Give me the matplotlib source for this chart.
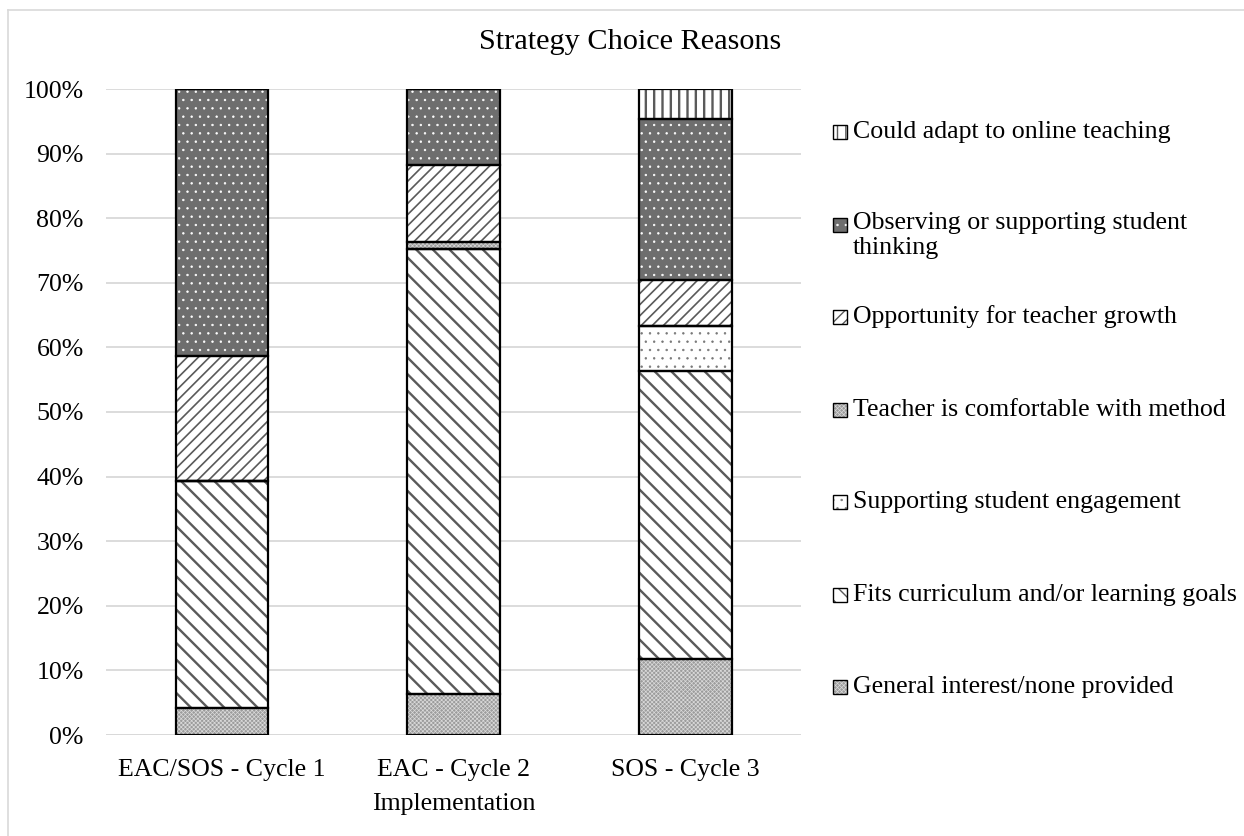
import matplotlib
matplotlib.use("Agg")
from matplotlib import pyplot as plt
from matplotlib.patches import Rectangle
import numpy as np

# categories (x axis)
groups = ["EAC/SOS - Cycle 1", "EAC - Cycle 2\nImplementation", "SOS - Cycle 3"]

# stacked series, bottom to top (percent)
general_interest = [4.2, 6.3, 11.8]
fits_curriculum = [35.1, 68.9, 44.5]
student_engagement = [0.0, 0.0, 7.0]
teacher_comfortable = [0.0, 1.1, 0.0]
teacher_growth = [19.4, 12.0, 7.1]
student_thinking = [41.3, 11.7, 24.9]
online_teaching = [0.0, 0.0, 4.7]

series_names = [
    "General interest/none provided",
    "Fits curriculum and/or learning goals",
    "Supporting student engagement",
    "Teacher is comfortable with method",
    "Opportunity for teacher growth",
    "Observing or supporting student\nthinking",
    "Could adapt to online teaching",
]
series_vals = [general_interest, fits_curriculum, student_engagement,
               teacher_comfortable, teacher_growth, student_thinking,
               online_teaching]

# (facecolor, hatch, hatch colour, hatch linewidth)
styles = [
    ("#9c9c9c", "xxxxxxxx", "#dadada", 0.5),
    ("white", "\\\\", "#5a5a5a", 1.7),
    ("white", "..", "#777777", 0.5),
    ("#9c9c9c", "xxxxxxxx", "#dadada", 0.5),
    ("white", "///", "#5a5a5a", 1.2),
    ("#6e6e6e", "..", "white", 0.5),
    ("white", "||", "#5a5a5a", 1.7),
]

plt.rcParams["font.family"] = ["Liberation Serif", "DejaVu Serif"]

FS = 18.6


def hatched(patch, lw):
    if hasattr(patch, "set_hatch_linewidth"):
        patch.set_hatch_linewidth(lw)


fig = plt.figure(figsize=(12.44, 8.36), dpi=100)
ax = fig.add_axes([106 / 1244, 1 - 735 / 836, 695 / 1244, 646 / 836])

x = np.arange(len(groups))
width = 0.40
bottom = np.zeros(len(groups))
for vals, (fc, hatch, hc, hlw) in zip(series_vals, styles):
    vals = np.array(vals)
    with plt.rc_context({"hatch.linewidth": hlw}):
        bars = ax.bar(x, vals, width, bottom=bottom, color=fc, hatch=hatch,
                      edgecolor=hc, linewidth=0, zorder=2)
        for b in bars:
            hatched(b, hlw)
    ax.bar(x, vals, width, bottom=bottom, fill=False,
           edgecolor="black", linewidth=1.6, zorder=3)
    bottom += vals

ax.set_xlim(-0.5, 2.5)
ax.set_ylim(0, 100)
ax.set_yticks(np.arange(0, 101, 10))
ax.set_yticklabels([f"{v}%" for v in range(0, 101, 10)], fontsize=FS)
ax.set_xticks(x)
ax.set_xticklabels(groups, fontsize=FS, linespacing=1.7)
ax.tick_params(length=0)
ax.tick_params(axis="x", pad=17.5)
ax.tick_params(axis="y", pad=16)
ax.yaxis.grid(True, color="#d9d9d9", linewidth=1.3, zorder=0)
ax.set_axisbelow(True)
for s in ax.spines.values():
    s.set_visible(False)
ax.axhline(0, color="#d9d9d9", linewidth=1.3, zorder=1)

fig.text(630 / 1244, 1 - 42 / 836, "Strategy Choice Reasons", ha="center",
         va="center", fontsize=21.8)

# legend, top to bottom
leg_y = [132, 225, 317, 410, 502, 595, 687]
box = 14
for i, y in enumerate(leg_y):
    k = len(series_names) - 1 - i
    fc, hatch, hc, hlw = styles[k]
    with plt.rc_context({"hatch.linewidth": min(hlw, 1.0)}):
        mark = Rectangle((833 / 1244, 1 - (y + box / 2) / 836),
                         box / 1244, box / 836, transform=fig.transFigure,
                         facecolor=fc, hatch=hatch, edgecolor=hc, linewidth=0)
        hatched(mark, min(hlw, 1.0))
    fig.patches.append(mark)
    fig.patches.append(Rectangle((833 / 1244, 1 - (y + box / 2) / 836),
                                 box / 1244, box / 836, transform=fig.transFigure,
                                 fill=False, edgecolor="black", linewidth=1.0))
    if "\n" in series_names[k]:
        fig.text(853 / 1244, 1 - (y - 13) / 836, series_names[k], ha="left",
                 va="top", fontsize=FS, linespacing=1.15)
    else:
        fig.text(853 / 1244, 1 - y / 836, series_names[k], ha="left",
                 va="center", fontsize=FS)

# chart area border (left and top edges visible)
fig.add_artist(plt.Line2D([8 / 1244, 8 / 1244], [0, 1 - 10 / 836],
                          transform=fig.transFigure, color="#d9d9d9", lw=1.2))
fig.add_artist(plt.Line2D([8 / 1244, 1], [1 - 10 / 836, 1 - 10 / 836],
                          transform=fig.transFigure, color="#d9d9d9", lw=1.2))

fig.savefig("out.png", dpi=100)
